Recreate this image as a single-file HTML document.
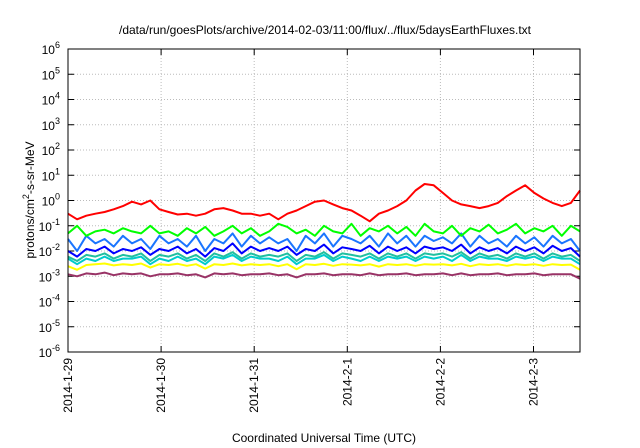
<!DOCTYPE html>
<html><head><meta charset="utf-8"><style>
body{margin:0;background:#fff}
svg{display:block;font-family:"Liberation Sans",sans-serif}
</style></head><body>
<svg id="c" width="640" height="448"></svg>
<script>
const xTickLabels=["2014-1-29","2014-1-30","2014-1-31","2014-2-1","2014-2-2","2014-2-3"];
const yTickExps=[-6,-5,-4,-3,-2,-1,0,1,2,3,4,5,6];
const red=[0.3,0.18,0.25,0.3,0.35,0.45,0.6,0.9,0.7,1.0,0.45,0.35,0.28,0.3,0.25,0.3,0.45,0.5,0.4,0.3,0.3,0.25,0.3,0.18,0.3,0.4,0.6,0.9,1.0,0.7,0.5,0.4,0.25,0.15,0.3,0.4,0.6,1.0,2.5,4.5,4.0,2.0,1.0,0.7,0.6,0.5,0.6,0.8,1.5,2.5,4.0,2.0,1.2,0.8,0.6,0.8,2.5];
const green=[0.05,0.1,0.04,0.06,0.07,0.05,0.08,0.06,0.05,0.1,0.05,0.06,0.04,0.08,0.05,0.09,0.04,0.06,0.1,0.05,0.08,0.04,0.06,0.12,0.09,0.05,0.07,0.04,0.1,0.06,0.05,0.12,0.04,0.08,0.06,0.1,0.05,0.09,0.04,0.12,0.06,0.05,0.1,0.04,0.08,0.06,0.11,0.05,0.07,0.12,0.05,0.08,0.06,0.1,0.04,0.1,0.06];
const lblue=[0.03,0.01,0.04,0.02,0.03,0.015,0.04,0.02,0.03,0.012,0.04,0.02,0.03,0.015,0.04,0.01,0.03,0.02,0.05,0.015,0.04,0.02,0.035,0.02,0.03,0.01,0.04,0.02,0.05,0.015,0.04,0.03,0.02,0.04,0.015,0.05,0.02,0.04,0.015,0.04,0.025,0.035,0.02,0.05,0.015,0.04,0.02,0.03,0.015,0.04,0.02,0.035,0.015,0.04,0.02,0.03,0.01];
const blue=[0.01,0.006,0.012,0.01,0.015,0.008,0.012,0.01,0.014,0.007,0.012,0.01,0.015,0.008,0.012,0.006,0.013,0.01,0.02,0.008,0.015,0.01,0.013,0.01,0.015,0.007,0.012,0.01,0.018,0.008,0.014,0.012,0.01,0.016,0.008,0.015,0.01,0.014,0.008,0.015,0.012,0.014,0.01,0.018,0.008,0.014,0.01,0.013,0.008,0.015,0.01,0.014,0.008,0.016,0.01,0.013,0.006];
const teal=[0.006,0.004,0.007,0.006,0.008,0.005,0.007,0.006,0.008,0.004,0.007,0.006,0.008,0.005,0.007,0.004,0.008,0.006,0.009,0.005,0.008,0.006,0.007,0.006,0.008,0.004,0.007,0.006,0.009,0.005,0.008,0.007,0.006,0.008,0.005,0.008,0.006,0.008,0.005,0.008,0.007,0.008,0.006,0.009,0.005,0.008,0.006,0.007,0.005,0.008,0.006,0.008,0.005,0.008,0.006,0.007,0.004];
const cyan=[0.005,0.003,0.005,0.004,0.006,0.004,0.005,0.005,0.006,0.003,0.005,0.004,0.006,0.004,0.005,0.003,0.006,0.005,0.007,0.004,0.006,0.005,0.005,0.004,0.006,0.003,0.005,0.005,0.007,0.004,0.006,0.005,0.004,0.006,0.004,0.006,0.005,0.006,0.004,0.006,0.005,0.006,0.004,0.007,0.004,0.006,0.005,0.005,0.004,0.006,0.005,0.006,0.004,0.006,0.005,0.005,0.003];
const yellow=[0.0025,0.0018,0.0028,0.003,0.0032,0.0027,0.003,0.0028,0.0032,0.0022,0.003,0.0028,0.0031,0.0026,0.003,0.002,0.003,0.0028,0.0032,0.0027,0.003,0.0028,0.003,0.0025,0.003,0.0019,0.003,0.0028,0.0031,0.0026,0.003,0.0029,0.0027,0.003,0.0024,0.003,0.0028,0.003,0.0026,0.003,0.0029,0.003,0.0027,0.0031,0.0025,0.003,0.0028,0.003,0.0026,0.003,0.0028,0.003,0.0026,0.003,0.0028,0.0029,0.0018];
const purple=[0.0012,0.001,0.0013,0.0012,0.0014,0.0011,0.0013,0.0012,0.0013,0.001,0.0012,0.0012,0.0013,0.0011,0.0012,0.0009,0.0013,0.0012,0.0013,0.0011,0.0012,0.0012,0.0013,0.0011,0.0012,0.0009,0.0012,0.0012,0.0013,0.0011,0.0012,0.0012,0.0011,0.0013,0.0011,0.0012,0.0012,0.0013,0.0011,0.0012,0.0012,0.0013,0.0011,0.0013,0.0011,0.0012,0.0012,0.0013,0.0011,0.0012,0.0012,0.0013,0.0011,0.0012,0.0012,0.0012,0.0008];
const L=68,R=580,T=49,B=352,DAY=93.1,SPAN=5.5;
const xs=d=>L+d*DAY;
const ys=v=>B-(Math.log10(v)+6)*(B-T)/12;
const svg=document.getElementById('c');
const NS='http://www.w3.org/2000/svg';
function mk(tag,attrs,parent){const e=document.createElementNS(NS,tag);for(const k in attrs)e.setAttribute(k,attrs[k]);(parent||svg).appendChild(e);return e;}
// grid
yTickExps.forEach(e=>{
  const y=ys(Math.pow(10,e));
  if(e>-6&&e<6){const g=mk('line',{x1:L,x2:R,y1:y,y2:y,stroke:'#bbb','stroke-dasharray':'1,2','stroke-width':1});
  
  }
  mk('line',{x1:L,x2:L+6,y1:y,y2:y,stroke:'#000'});
  mk('line',{x1:R-6,x2:R,y1:y,y2:y,stroke:'#000'});
  const t=mk('text',{x:L-8,y:y+5,'text-anchor':'end','font-size':12});
  
  
  t.innerHTML='10<tspan dy="-6" font-size="9">'+e+'</tspan>';
});
xTickLabels.forEach((lab,i)=>{
  const x=xs(i);
  if(i>0){const g=mk('line',{x1:x,x2:x,y1:T,y2:B,stroke:'#bbb','stroke-dasharray':'1,2'});
  
  }
  mk('line',{x1:x,x2:x,y1:B,y2:B-6,stroke:'#000'});
  mk('line',{x1:x,x2:x,y1:T,y2:T+6,stroke:'#000'});
  const t=mk('text',{x:0,y:0,'text-anchor':'end','font-size':12,transform:`translate(${x+4},${B+6}) rotate(-90)`});
  
  
  t.textContent=lab;
});
const series=[[purple,'#993366','purple'],[yellow,'#ffff00','yellow'],[cyan,'#00cccc','cyan'],[teal,'#20c0a0','teal'],[blue,'#0000ff','blue'],[lblue,'#1a75ff','light-blue'],[green,'#00ff00','green'],[red,'#ff0000','red']];
series.forEach(([d,c,n])=>{
  const pts=d.map((v,i)=>xs(i*SPAN/(d.length-1)).toFixed(1)+','+ys(v).toFixed(1)).join(' ');
  const p=mk('polyline',{points:pts,fill:'none',stroke:c,'stroke-width':2,'stroke-linejoin':'round'});
  
  
});
const f=mk('rect',{x:L,y:T,width:R-L,height:B-T,fill:'none',stroke:'#000','stroke-width':1});


const ti=mk('text',{x:325,y:34,'text-anchor':'middle','font-size':12});


ti.textContent='/data/run/goesPlots/archive/2014-02-03/11:00/flux/../flux/5daysEarthFluxes.txt';
const xt=mk('text',{x:324,y:442,'text-anchor':'middle','font-size':12});


xt.textContent='Coordinated Universal Time (UTC)';
const yt=mk('text',{x:0,y:0,'text-anchor':'middle','font-size':12,transform:'translate(34,200) rotate(-90)'});


yt.innerHTML='protons/cm<tspan dy="-5" font-size="9">2</tspan><tspan dy="5">-s-sr-MeV</tspan>';
</script>
</body></html>
